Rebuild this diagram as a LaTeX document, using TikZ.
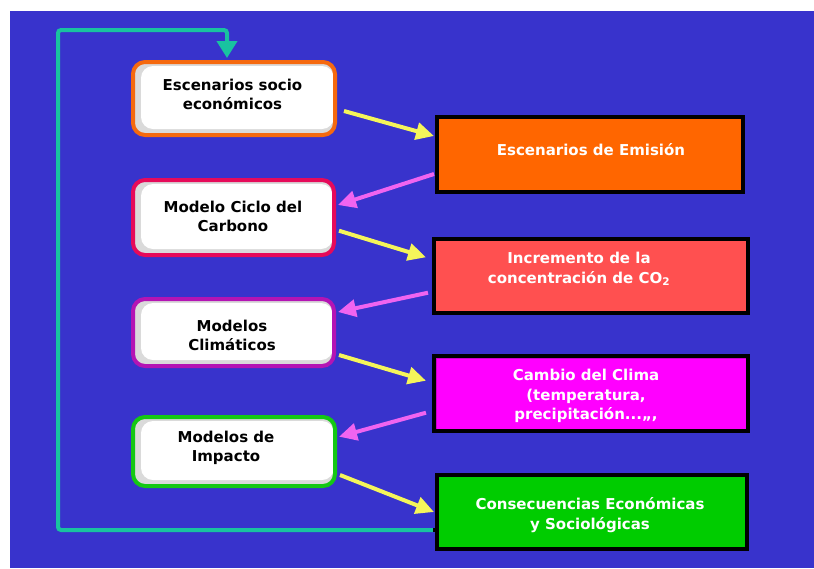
\documentclass[tikz,border=0pt]{standalone}
\usepackage{fontspec}
\setmainfont{DejaVu Sans}
\usetikzlibrary{arrows.meta}
\definecolor{bgblue}{RGB}{56,51,204}
\definecolor{arryellow}{RGB}{245,245,90}
\definecolor{arrpink}{RGB}{240,100,240}
\definecolor{loopteal}{RGB}{25,195,160}
\definecolor{shadegray}{RGB}{218,218,218}
\definecolor{borange}{RGB}{245,105,15}
\definecolor{bcrimson}{RGB}{230,10,90}
\definecolor{bpurple}{RGB}{180,20,180}
\definecolor{bgreen}{RGB}{20,200,20}
\definecolor{forange}{RGB}{255,102,0}
\definecolor{fred}{RGB}{255,80,80}
\definecolor{fmagenta}{RGB}{255,0,255}
\definecolor{dmagenta}{RGB}{204,0,204}
\definecolor{fgreen}{RGB}{0,204,0}
\begin{document}
\begin{tikzpicture}[x=1pt,y=-1pt,
  lbox/.style={draw=#1, line width=4pt, rounded corners=12pt, fill=shadegray, inner sep=0pt,
    path picture={\fill[white] ([xshift=8pt,yshift=6pt]path picture bounding box.south west)
      rectangle ([xshift=-1pt,yshift=-4pt]path picture bounding box.north east);}},
  rbox/.style={draw=black, line width=4pt, fill=#1, inner sep=0pt},
  ltext/.style={font=\bfseries\fontsize{15}{19}\selectfont, text=black, align=center, inner sep=0pt},
  rtext/.style={font=\bfseries\fontsize{15}{19.5}\selectfont, text=white, align=center, inner sep=0pt},
  yarr/.style={draw=arryellow, line width=4pt, -{Triangle[length=18pt,width=17pt]}},
  parr/.style={draw=arrpink, line width=4pt, -{Triangle[length=18pt,width=17pt]}},
  tloop/.style={draw=loopteal, line width=4pt, rounded corners=3pt, -{Triangle[length=17pt,width=20pt]}}
]
\useasboundingbox (0,0) rectangle (814,568);
\fill[white] (0,0) rectangle (814,568);
\fill[bgblue] (10,11) rectangle (814,568);

% left boxes
\node[lbox=borange, minimum width=202pt, minimum height=73pt] (L1) at (234,98.5) {};
\node[lbox=bcrimson, minimum width=201pt, minimum height=75pt] (L2) at (233.5,217.5) {};
\node[lbox=bpurple, minimum width=201pt, minimum height=67pt] (L3) at (233.5,332.5) {};
\node[lbox=bgreen, minimum width=202pt, minimum height=69pt] (L4) at (234,451.5) {};

% right boxes
\node[rbox=forange, minimum width=306pt, minimum height=75pt] (A) at (590,154.5) {};
\node[rbox=fred, minimum width=314pt, minimum height=74pt] (B) at (591,276) {};
\node[rbox=fmagenta, minimum width=314pt, minimum height=75pt,
  path picture={\draw[dmagenta, line width=5pt] (path picture bounding box.south west) rectangle (path picture bounding box.north east);}] (C) at (591,393.5) {};
\node[rbox=fgreen, minimum width=310pt, minimum height=74pt] (D) at (592,512) {};

% feedback loop
\coordinate (corner) at (58,30);
\draw[tloop] ([yshift=-18pt]D.west) -| (corner) -| ([xshift=-7pt,yshift=2pt]L1.north);
\fill[black] ([xshift=-2pt,yshift=-20pt]D.west) rectangle ([xshift=2pt,yshift=-16pt]D.west);

% texts
\node[ltext] (T1) at (232.5,94) {Escenarios socio\\económicos};
\node[ltext] (T2) at (233,216) {Modelo Ciclo del\\Carbono};
\node[ltext] (T3) at (232,335) {Modelos\\Climáticos};
\node[ltext] (T4) at (226,448) {Modelos de\\Impacto};
\node[rtext] (TA) at (591,150) {Escenarios de Emisión};
\node[rtext] (TB) at (579,269) {Incremento de la\\concentración de CO\textsubscript{2}};
\node[rtext] (TC) at (586,396) {Cambio del Clima\\(temperatura,\\precipitación...,,,};
\node[rtext] (TD) at (590,515) {Consecuencias Económicas\\y Sociológicas};

% arrows
\draw[yarr] ([xshift=7pt,yshift=-12.5pt]L1.east) -- ([xshift=-1pt,yshift=18.5pt]A.west);
\draw[parr] ([xshift=-1pt,yshift=-19.5pt]A.west) -- ([xshift=2pt,yshift=12.5pt]L2.east);
\draw[yarr] ([xshift=3pt,yshift=-13.2pt]L2.east) -- ([xshift=-6pt,yshift=18.7pt]B.west);
\draw[parr] ([xshift=-4pt,yshift=-16.7pt]B.west) -- ([xshift=2pt,yshift=20.5pt]L3.east);
\draw[yarr] ([xshift=3pt,yshift=-22.5pt]L3.east) -- ([xshift=-6pt,yshift=12.8pt]C.west);
\draw[parr] ([xshift=-6pt,yshift=-19.2pt]C.west) -- ([xshift=2pt,yshift=14.8pt]L4.east);
\draw[yarr] ([xshift=3pt,yshift=-23.5pt]L4.east) -- ([xshift=-1pt,yshift=0pt]D.west);
\end{tikzpicture}
\end{document}
